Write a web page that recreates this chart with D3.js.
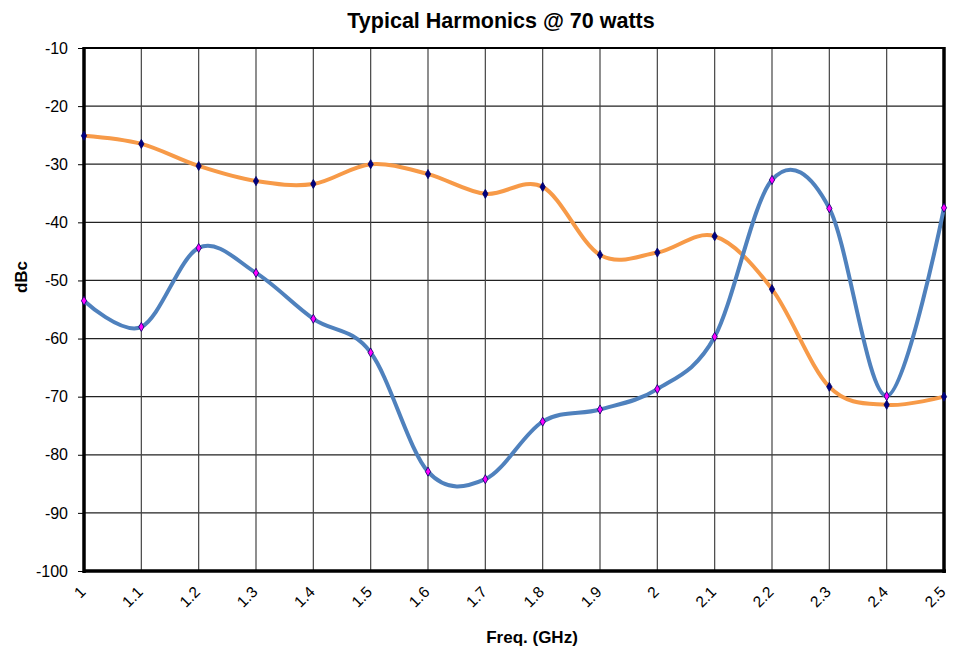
<!DOCTYPE html>
<html>
<head>
<meta charset="utf-8">
<script src="https://cdn.jsdelivr.net/npm/d3@7"></script>
<style>
  body { margin: 0; background: #fff; }
  text { font-family: "Liberation Sans", Arial, sans-serif; }
</style>
</head>
<body>
<div id="chart"></div>
<script>
// frequency points (GHz)
var freqs = [1.0, 1.1, 1.2, 1.3, 1.4, 1.5, 1.6, 1.7, 1.8, 1.9, 2.0, 2.1, 2.2, 2.3, 2.4, 2.5];
// orange and blue harmonic series, dBc
var seriesOrange = [-25.1, -26.5, -30.3, -32.9, -33.4, -30.0, -31.7, -35.1, -33.9, -45.6, -45.2, -42.4, -51.5, -68.3, -71.4, -70.0];
var seriesBlue = [-53.5, -58.0, -44.4, -48.7, -56.6, -62.4, -82.9, -84.2, -74.3, -72.2, -68.7, -59.7, -32.7, -37.6, -69.9, -37.5];
var yTicks = [-10, -20, -30, -40, -50, -60, -70, -80, -90, -100];
var xTickLabels = ["1", "1.1", "1.2", "1.3", "1.4", "1.5", "1.6", "1.7", "1.8", "1.9", "2", "2.1", "2.2", "2.3", "2.4", "2.5"];

var W = 958, H = 652;
var margin = {top: 48, right: 14, bottom: 81, left: 84},
    width = W - margin.left - margin.right,
    height = H - margin.top - margin.bottom;

var svg = d3.select("#chart").append("svg")
  .attr("width", W)
  .attr("height", H);

var g = svg.append("g")
  .attr("transform", "translate(" + margin.left + "," + margin.top + ")");

var x = d3.scaleLinear().domain([1, 2.5]).range([0, width]);
var y = d3.scaleLinear().domain([-100, -10]).range([height, 0]);

// grid
g.selectAll(".hgrid").data(yTicks).enter().append("line")
  .attr("x1", 0).attr("x2", width)
  .attr("y1", function(d) { return y(d); })
  .attr("y2", function(d) { return y(d); })
  .attr("stroke", "#222").attr("stroke-width", 1.2);

g.selectAll(".vgrid").data(freqs).enter().append("line")
  .attr("x1", function(d) { return x(d); })
  .attr("x2", function(d) { return x(d); })
  .attr("y1", 0).attr("y2", height)
  .attr("stroke", "#444").attr("stroke-width", 1.2);

// y axis (plain hyphen minus like the original)
var yAxis = g.append("g")
  .call(d3.axisLeft(y).tickValues(yTicks).tickSize(6).tickPadding(10)
    .tickFormat(function(d) { return String(d); }));
yAxis.select(".domain").remove();
yAxis.selectAll("text").attr("font-size", 16).attr("fill", "#000")
  .style("font-family", "'Liberation Sans', Arial, sans-serif");

// x axis
var xAxis = g.append("g")
  .attr("transform", "translate(0," + height + ")")
  .call(d3.axisBottom(x).tickValues(freqs).tickSize(0)
    .tickFormat(function(d, i) { return xTickLabels[i]; }));
xAxis.select(".domain").remove();
xAxis.selectAll("text")
  .attr("font-size", 15.5).attr("fill", "#000")
  .style("font-family", "'Liberation Sans', Arial, sans-serif")
  .attr("text-anchor", "end")
  .attr("dy", null).attr("y", 0)
  .attr("transform", "translate(2,22) rotate(-45)");

// frame
g.append("line").attr("x1", 0).attr("x2", width).attr("y1", 0).attr("y2", 0)
  .attr("stroke", "#000").attr("stroke-width", 2);
g.append("line").attr("x1", 0).attr("x2", 0).attr("y1", -1).attr("y2", height + 2)
  .attr("stroke", "#000").attr("stroke-width", 3.5);
g.append("line").attr("x1", -1).attr("x2", width + 2).attr("y1", height).attr("y2", height)
  .attr("stroke", "#000").attr("stroke-width", 3.5);
g.append("line").attr("x1", width).attr("x2", width).attr("y1", -1).attr("y2", height + 2)
  .attr("stroke", "#000").attr("stroke-width", 3.5);

var line = d3.line()
  .x(function(d) { return x(d[0]); })
  .y(function(d) { return y(d[1]); })
  .curve(d3.curveCardinal.tension(0));

function drawSeries(vals, color, markFill) {
  var pts = freqs.map(function(f, i) { return [f, vals[i]]; });
  g.append("path").datum(pts)
    .attr("d", line)
    .attr("fill", "none")
    .attr("stroke", color)
    .attr("stroke-width", 4)
    .attr("stroke-linejoin", "round");
  g.selectAll(null).data(pts).enter().append("path")
    .attr("d", d3.symbol().type(d3.symbolDiamond).size(24))
    .attr("transform", function(d) { return "translate(" + x(d[0]) + "," + y(d[1]) + ")"; })
    .attr("fill", markFill)
    .attr("stroke", "#000066")
    .attr("stroke-width", 0.8);
}

drawSeries(seriesOrange, "#F79A48", "#000080");
drawSeries(seriesBlue, "#4F81BD", "#FF00FF");

// titles
svg.append("text")
  .attr("x", 501).attr("y", 28)
  .attr("text-anchor", "middle")
  .attr("font-size", 21.5).attr("font-weight", "bold")
  .text("Typical Harmonics @ 70 watts");

svg.append("text")
  .attr("x", 532).attr("y", 643)
  .attr("text-anchor", "middle")
  .attr("font-size", 17).attr("font-weight", "bold")
  .text("Freq. (GHz)");

svg.append("text")
  .attr("transform", "translate(27,277) rotate(-90)")
  .attr("text-anchor", "middle")
  .attr("font-size", 17).attr("font-weight", "bold")
  .text("dBc");
</script>
</body>
</html>
